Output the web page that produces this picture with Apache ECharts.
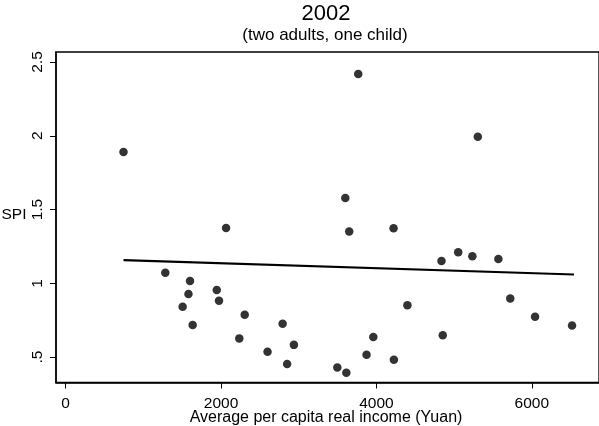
<!DOCTYPE html>
<html>
<head>
<meta charset="utf-8">
<script src="https://cdn.jsdelivr.net/npm/echarts@6/dist/echarts.min.js"></script>
<style>
  html, body { margin: 0; padding: 0; background: #fff; }
  #chart { width: 599px; height: 426px; }
</style>
</head>
<body>
<div id="chart"></div>
<script>
// Average per capita real income (Yuan)
const incomeX = [745, 1283, 1506, 1581, 1601, 1635, 1945, 1974, 2065, 2235, 2305, 2599, 2793, 2851, 2938,
  3497, 3600, 3613, 3650, 3766, 3873, 3960, 4221, 4225, 4399, 4838, 4854, 5053, 5235, 5305, 5570, 5723, 6042, 6518];
// SPI values
const spiY = [1.89, 1.072, 0.841, 0.928, 1.016, 0.717, 0.955, 0.882, 1.375, 0.627, 0.787, 0.537, 0.726, 0.453, 0.583,
  0.43, 1.579, 0.394, 1.351, 2.419, 0.516, 0.636, 1.373, 0.482, 0.851, 1.151, 0.649, 1.21, 1.183, 1.993, 1.165, 0.898, 0.774, 0.715];
// Fitted line end points
const fitX = [745, 6543];
const fitY = [1.158, 1.06];

const xTickValues = [0, 2000, 4000, 6000];
const xTickLabels = ['0', '2000', '4000', '6000'];
const yTickValues = [0.5, 1, 1.5, 2, 2.5];
const yTickLabels = ['.5', '1', '1.5', '2', '2.5'];

const titleText = '2002';
const subtitleText = '(two adults, one child)';
const xTitle = 'Average per capita real income (Yuan)';
const yTitle = 'SPI';

const FONT = '"Liberation Sans", Arial, Helvetica, sans-serif';

const scatterData = incomeX.map((x, i) => [x, spiY[i]]);
const fitData = fitX.map((x, i) => [x, fitY[i]]);

const chart = echarts.init(document.getElementById('chart'), null, { renderer: 'canvas' });
chart.setOption({
  backgroundColor: '#fff',
  animation: false,
  textStyle: { fontFamily: FONT },
  grid: {
    left: 56, top: 52, width: 563, height: 330.5,
    show: true, borderColor: '#000', borderWidth: 1.3, backgroundColor: 'transparent'
  },
  xAxis: {
    type: 'value', min: -124, max: 6865,
    splitLine: { show: false },
    axisLine: { show: true, onZero: false, lineStyle: { color: '#000', width: 1.5 } },
    axisTick: { show: true, length: 6, customValues: xTickValues, lineStyle: { color: '#000', width: 1 } },
    axisLabel: {
      customValues: xTickValues, margin: 13, fontSize: 15.5, color: '#000', fontFamily: FONT,
      formatter: v => xTickLabels[xTickValues.indexOf(v)]
    }
  },
  yAxis: {
    type: 'value', min: 0.328, max: 2.5678,
    splitLine: { show: false },
    axisLine: { show: true, onZero: false, lineStyle: { color: '#000', width: 1.5 } },
    axisTick: { show: true, length: 6, customValues: yTickValues, lineStyle: { color: '#000', width: 1 } },
    axisLabel: {
      customValues: yTickValues, rotate: 90, margin: 10, fontSize: 15.5, color: '#000', fontFamily: FONT,
      formatter: v => yTickLabels[yTickValues.indexOf(v)]
    }
  },
  graphic: [
    { type: 'text', left: 0, top: 0, style: { text: '' } },
    { type: 'text', x: 326, y: 13.5, style: { text: titleText, fontSize: 22, fill: '#000', font: '22px ' + FONT, textAlign: 'center', textVerticalAlign: 'middle' } },
    { type: 'text', x: 325, y: 35.5, style: { text: subtitleText, fontSize: 17, fill: '#000', font: '17px ' + FONT, textAlign: 'center', textVerticalAlign: 'middle' } },
    { type: 'text', x: 326, y: 417.5, style: { text: xTitle, fontSize: 16, fill: '#000', font: '16px ' + FONT, textAlign: 'center', textVerticalAlign: 'middle' } },
    { type: 'text', x: 14, y: 215, style: { text: yTitle, fontSize: 15.5, fill: '#000', font: '15.5px ' + FONT, textAlign: 'center', textVerticalAlign: 'middle' } }
  ],
  series: [
    {
      type: 'scatter', data: scatterData, symbol: 'circle', symbolSize: 8.5,
      itemStyle: { color: '#000' }, z: 3
    },
    {
      type: 'line', data: fitData, showSymbol: false, symbol: 'none',
      lineStyle: { color: '#000', width: 2.2 }, z: 2
    }
  ]
});
</script>
</body>
</html>
